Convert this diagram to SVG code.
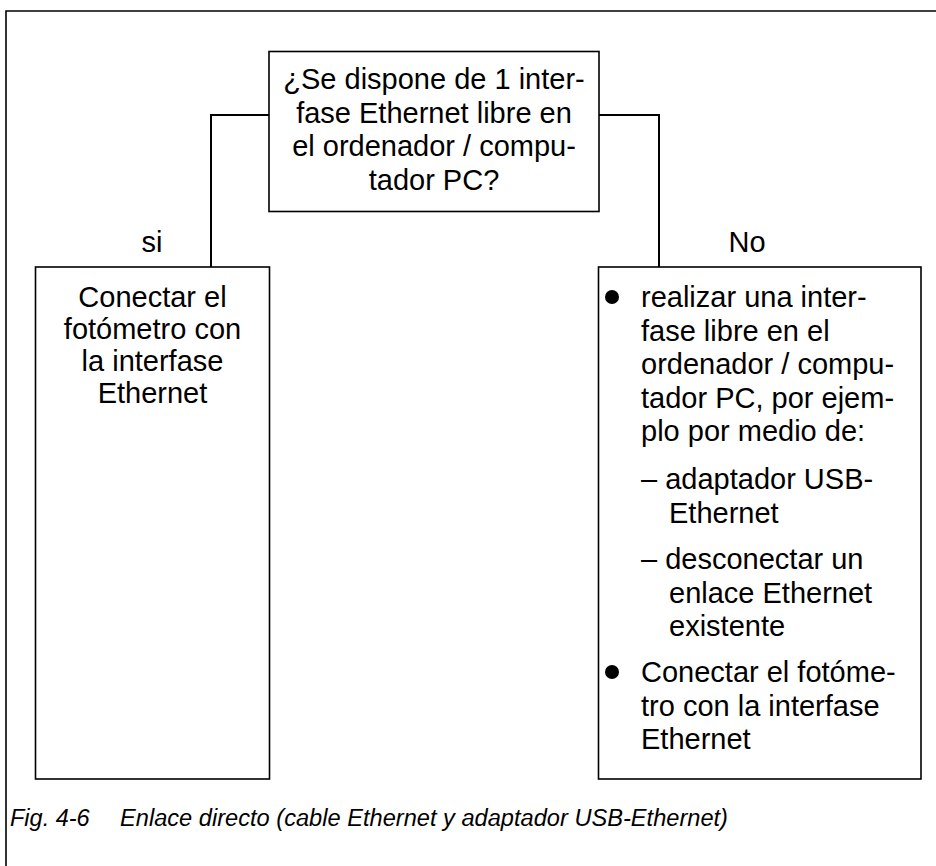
<svg xmlns="http://www.w3.org/2000/svg" width="936" height="866" viewBox="0 0 936 866">
<style>
.box{fill:#fff;stroke:#000;stroke-width:1.6}
.con{fill:none;stroke:#000;stroke-width:2}
.t{font-family:"Liberation Sans",Arial,sans-serif;font-size:29px;fill:#000}
.c{text-anchor:middle}
.cap{font-family:"Liberation Sans",Arial,sans-serif;font-size:23.5px;font-style:italic;fill:#000}
</style>
<rect width="936" height="866" fill="#fff"/>
<path d="M6,866 V11 H936" fill="none" stroke="#000" stroke-width="1.6"/>
<g id="connectors">
<path class="con" d="M269,115 H211 V267"/>
<path class="con" d="M599,115 H659 V267"/>
</g>
<g id="question">
<rect class="box" x="269" y="51.5" width="330" height="160"/>
<text class="t c" x="434"><tspan x="434" y="89">¿Se dispone de 1 inter-</tspan><tspan x="434" y="122.6">fase Ethernet libre en</tspan><tspan x="434" y="156.2">el ordenador / compu-</tspan><tspan x="434" y="189.8">tador PC?</tspan></text>
</g>
<g id="label-si"><text class="t c" x="152" y="252">si</text></g>
<g id="label-no"><text class="t c" x="747" y="252">No</text></g>
<g id="yes-box">
<rect class="box" x="35.5" y="267" width="234" height="512"/>
<text class="t c"><tspan x="152.5" y="307">Conectar el</tspan><tspan x="152.5" y="339">fotómetro con</tspan><tspan x="152.5" y="371">la interfase</tspan><tspan x="152.5" y="403">Ethernet</tspan></text>
</g>
<g id="no-box">
<rect class="box" x="598.5" y="267" width="322.5" height="512"/>
<circle cx="612" cy="297" r="7"/>
<circle cx="612" cy="672" r="7"/>
<text class="t"><tspan x="641" y="307">realizar una inter-</tspan><tspan x="641" y="340.6">fase libre en el</tspan><tspan x="641" y="374.2">ordenador / compu-</tspan><tspan x="641" y="407.8">tador PC, por ejem-</tspan><tspan x="641" y="441.4">plo por medio de:</tspan><tspan x="641" y="489">– adaptador USB-</tspan><tspan x="669" y="522.6">Ethernet</tspan><tspan x="641" y="569">– desconectar un</tspan><tspan x="669" y="602.6">enlace Ethernet</tspan><tspan x="669" y="636.2">existente</tspan><tspan x="641" y="682">Conectar el fotóme-</tspan><tspan x="641" y="715.6">tro con la interfase</tspan><tspan x="641" y="749.2">Ethernet</tspan></text>
</g>
<g id="caption">
<text class="cap" x="10" y="826">Fig. 4-6</text>
<text class="cap" x="120" y="826" textLength="608" lengthAdjust="spacingAndGlyphs">Enlace directo (cable Ethernet y adaptador USB-Ethernet)</text>
</g>
</svg>
